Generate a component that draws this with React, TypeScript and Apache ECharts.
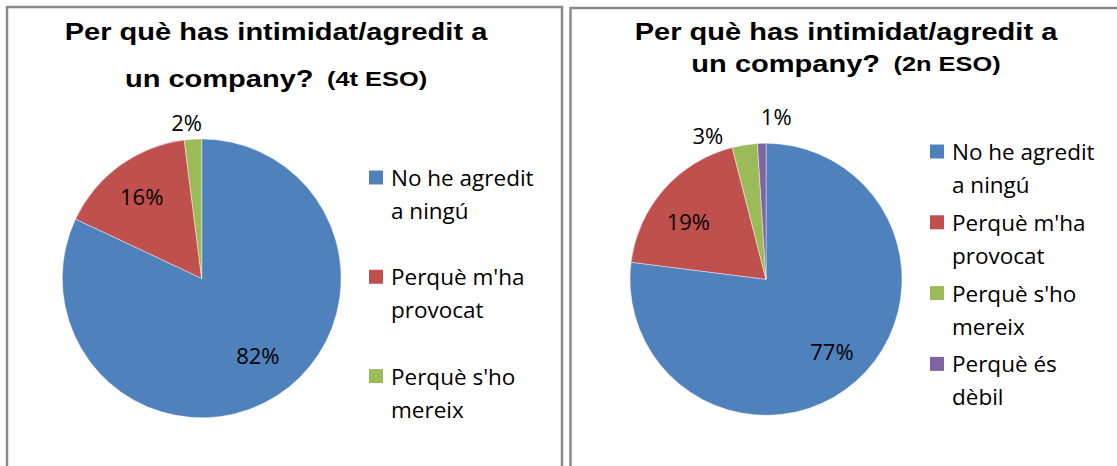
import React, { useEffect, useRef } from "react";
import * as echarts from "echarts";

// ---- data ----
const CATEGORIES = [
  "No he agredit a ningú",
  "Perquè m'ha provocat",
  "Perquè s'ho mereix",
  "Perquè és dèbil",
];
const LEGEND_WRAPPED = [
  "No he agredit\na ningú",
  "Perquè m'ha\nprovocat",
  "Perquè s'ho\nmereix",
  "Perquè és\ndèbil",
];
const VALUES_4T = [82, 16, 2];
const VALUES_2N = [77, 19, 3, 1];
const TITLE_LINE1 = "Per què has intimidat/agredit a";
const TITLE_LINE2 = "un company?";
const SUBTITLE_4T = "(4t ESO)";
const SUBTITLE_2N = "(2n ESO)";

// ---- styles ----
const COLORS = ["#4F81BD", "#C0504D", "#9BBB59", "#8064A2"];
const LABEL_FONT = "'Open Sans', 'Noto Sans', sans-serif";
const TITLE_FONT = "'Liberation Sans', Arial, sans-serif";

const PIES = [
  {
    values: VALUES_4T,
    center: [201.7, 278.4],
    r: 139.4,
    labelDist: [0.68, 0.733, 1.129],
    labelTurn: [-3.9, 0, -1.9],
  },
  {
    values: VALUES_2N,
    center: [766, 279.3],
    r: 136,
    labelDist: [0.716, 0.715, 1.146, 1.2],
    labelTurn: [-1.2, -4.4, -12.9, 5.4],
  },
];

function buildSeries(idx: number) {
  const p = PIES[idx];
  return {
    type: "pie",
    center: p.center,
    radius: p.r,
    startAngle: 90,
    clockwise: true,
    avoidLabelOverlap: false,
    silent: true,
    data: p.values.map((v, i) => ({
      name: CATEGORIES[i],
      value: v,
      itemStyle: { color: COLORS[i] },
    })),
    itemStyle: { borderColor: "rgba(255,255,255,0.7)", borderWidth: 0.6 },
    label: {
      show: true,
      position: "inside",
      formatter: (q: any) => Math.round(q.percent) + "%",
      fontFamily: LABEL_FONT,
      fontSize: 22,
      color: "#000",
    },
    labelLine: { show: false },
    labelLayout: (q: any) => {
      const i = q.dataIndex;
      const total = p.values.reduce((a, b) => a + b, 0);
      let before = 0;
      for (let k = 0; k < i; k++) before += p.values[k];
      const mid = ((before + p.values[i] / 2) / total) * 360 + p.labelTurn[i];
      const rad = (mid * Math.PI) / 180;
      const d = p.labelDist[i] * p.r;
      return {
        x: p.center[0] + d * Math.sin(rad),
        y: p.center[1] - d * Math.cos(rad),
        align: "center",
        verticalAlign: "middle",
      };
    },
  };
}

function buildLegend(n: number, left: number, top: number, gap: number) {
  return {
    orient: "vertical",
    left,
    top,
    padding: 0,
    itemGap: gap,
    itemWidth: 14,
    itemHeight: 66,
    icon: "path://M0,0L0,0M0,66L0,66M0,9.5H14V23.5H0Z",
    itemStyle: { borderWidth: 0 },
    selectedMode: false,
    data: CATEGORIES.slice(0, n),
    formatter: (name: string) => LEGEND_WRAPPED[CATEGORIES.indexOf(name)],
    textStyle: {
      fontFamily: LABEL_FONT,
      fontSize: 22.5,
      lineHeight: 33,
      color: "#000",
      padding: [0, 0, 0, 3],
    },
  };
}

function titleTexts(cx: number, y1: number, y2: number, sub: string) {
  const base = {
    fontFamily: TITLE_FONT,
    fontWeight: "bold",
    fill: "#000",
    align: "center",
    verticalAlign: "middle",
  };
  return [
    {
      type: "text",
      x: cx,
      y: y1,
      scaleX: 1.21,
      style: { ...base, text: TITLE_LINE1, fontSize: 24 },
    },
    {
      type: "text",
      x: cx,
      y: y2,
      scaleX: 1.21,
      style: {
        ...base,
        text: `{a|${TITLE_LINE2}}{b|${sub}}`,
        rich: {
          a: { fontFamily: TITLE_FONT, fontWeight: "bold", fontSize: 24, lineHeight: 30, fill: "#000" },
          b: {
            fontFamily: TITLE_FONT,
            fontWeight: "bold",
            fontSize: 21,
            lineHeight: 30,
            fill: "#000",
            padding: [0, 0, 0, 11],
          },
        },
      },
    },
  ];
}

export default function App() {
  const ref = useRef<HTMLDivElement>(null);
  useEffect(() => {
    document.body.style.margin = "0";
    if (!ref.current) return;
    const chart = echarts.init(ref.current, null, { renderer: "svg" });
    chart.setOption({
      animation: false,
      backgroundColor: "#fff",
      legend: [buildLegend(3, 369, 161, 33.3), buildLegend(4, 930, 135, 4.8)],
      series: [buildSeries(0), buildSeries(1)],
      graphic: [
        {
          type: "rect",
          shape: { x: 7, y: 7, width: 555, height: 480 },
          style: { fill: "none", stroke: "#8a8a8a", lineWidth: 2.5 },
          silent: true,
        },
        {
          type: "rect",
          shape: { x: 570.5, y: 8, width: 560, height: 480 },
          style: { fill: "none", stroke: "#8a8a8a", lineWidth: 2.5 },
          silent: true,
        },
        ...titleTexts(276, 32.2, 78.8, SUBTITLE_4T),
        ...titleTexts(846, 32.2, 64, SUBTITLE_2N),
      ],
    });
    return () => chart.dispose();
  }, []);
  return <div ref={ref} style={{ width: 1117, height: 466 }} />;
}
